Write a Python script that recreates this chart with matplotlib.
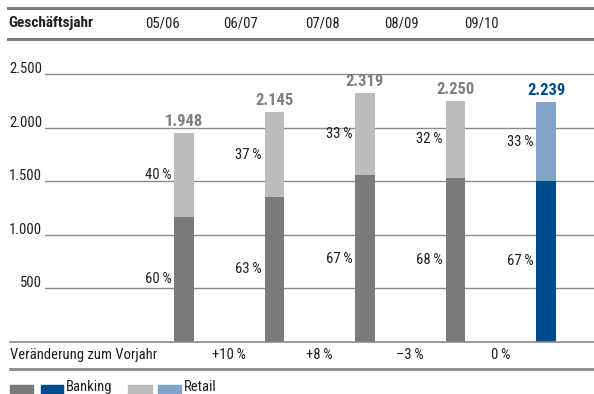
import matplotlib
matplotlib.use("Agg")
import matplotlib.pyplot as plt
from matplotlib.patches import Rectangle
from matplotlib.lines import Line2D

plt.rcParams['font.family'] = ['Roboto Condensed', 'DejaVu Sans']

# Data
years = ["05/06", "06/07", "07/08", "08/09", "09/10"]
totals = [1948, 2145, 2319, 2250, 2239]
banking_pct = [60, 63, 67, 68, 67]
retail_pct = [40, 37, 33, 32, 33]
changes = ["+10\u2009%", "+8\u2009%", "\u20133\u2009%", "0\u2009%"]
yticks = [500, 1000, 1500, 2000, 2500]
ytick_labels = ["500", "1.000", "1.500", "2.000", "2.500"]
value_labels = ["1.948", "2.145", "2.319", "2.250", "2.239"]

GRAY_DARK = "#7a7a7b"
GRAY_LIGHT = "#bcbcbc"
BLUE_DARK = "#004b8d"
BLUE_LIGHT = "#7fa4c8"
TEXT = "#1e1e1e"
LINE = "#8a8a8a"

W, H = 594, 394
fig = plt.figure(figsize=(W / 100, H / 100), dpi=100)


def fx(px):
    return px / W


def fy(py):
    return 1 - py / H


# Plot area in pixel coordinates
left_px, right_px, top_px, base_px = 45, 594, 60, 341.7
ax = fig.add_axes([fx(left_px), fy(base_px), fx(right_px - left_px), (base_px - top_px) / H])
bar0_px, step_px = 184, 90.5
ax.set_xlim((left_px - bar0_px) / step_px, (right_px - bar0_px) / step_px)
units_per_px = 2500 / (base_px - 74)
ax.set_ylim(0, (base_px - top_px) * units_per_px)
ax.axis("off")

for v in yticks:
    ax.axhline(v, color=LINE, lw=1.0, zorder=0)

width = 0.21
pad = 0.035
for i, total in enumerate(totals):
    last = i == len(totals) - 1
    b = total * banking_pct[i] / 100
    r = total - b
    ax.bar(i, b, width=width, color=BLUE_DARK if last else GRAY_DARK, zorder=2)
    ax.bar(i, r, bottom=b, width=width, color=BLUE_LIGHT if last else GRAY_LIGHT, zorder=2)
    ax.text(i, total + 4 * units_per_px, value_labels[i], ha="center", va="bottom",
            fontsize=12, fontweight="bold", color=BLUE_DARK if last else "#7f7f7f")
    ax.text(i - width / 2 - pad, b / 2, f"{banking_pct[i]}\u2009%", ha="right", va="center",
            fontsize=10.5, color=TEXT)
    ax.text(i - width / 2 - pad, b + r / 2, f"{retail_pct[i]}\u2009%", ha="right", va="center",
            fontsize=10.5, color=TEXT)

# Year-on-year change, centred between neighbouring bars
for i, c in enumerate(changes):
    ax.text(i + 0.5, -(355 - base_px) * units_per_px, c, ha="center", va="center",
            fontsize=10.5, color=TEXT, clip_on=False)

# Y tick labels
for v, lab in zip(yticks, ytick_labels):
    ax.text((42 - bar0_px) / step_px, v + 1 * units_per_px, lab, ha="right", va="baseline",
            fontsize=10.5, color=TEXT, clip_on=False)

# Table rules
fig.add_artist(Line2D([fx(8), 1], [fy(8), fy(8)], color="#7d7d7d", lw=2.2))
fig.add_artist(Line2D([fx(8), 1], [fy(39), fy(39)], color="#7d7d7d", lw=2.2))
fig.add_artist(Line2D([fx(10), 1], [fy(341.7), fy(341.7)], color="#8a8a8a", lw=1.2))
fig.add_artist(Line2D([fx(10), 1], [fy(368.5), fy(368.5)], color="#8a8a8a", lw=2.0))

# Header row
fig.text(fx(8), fy(23), "Geschäftsjahr", ha="left", va="center", fontsize=11,
         fontweight="bold", color=TEXT)
header_x = [162, 241, 322, 401, 481]
for hx, y in zip(header_x, years):
    fig.text(fx(hx), fy(23), y, ha="center", va="center", fontsize=10.5, color=TEXT)

fig.text(fx(10), fy(355), "Veränderung zum Vorjahr", ha="left", va="center",
         fontsize=10.5, color=TEXT)

# Legend
for (x0, x1), col in [((10, 33), GRAY_DARK), ((41, 63), BLUE_DARK),
                      ((128, 152), GRAY_LIGHT), ((158, 181), BLUE_LIGHT)]:
    fig.add_artist(Rectangle((fx(x0), 0), fx(x1 - x0), (H - 385) / H,
                             color=col, transform=fig.transFigure))
fig.text(fx(66), fy(391), "Banking", ha="left", va="baseline", fontsize=10.5, color=TEXT)
fig.text(fx(184), fy(391), "Retail", ha="left", va="baseline", fontsize=10.5, color=TEXT)

fig.savefig("out.png", dpi=100)
